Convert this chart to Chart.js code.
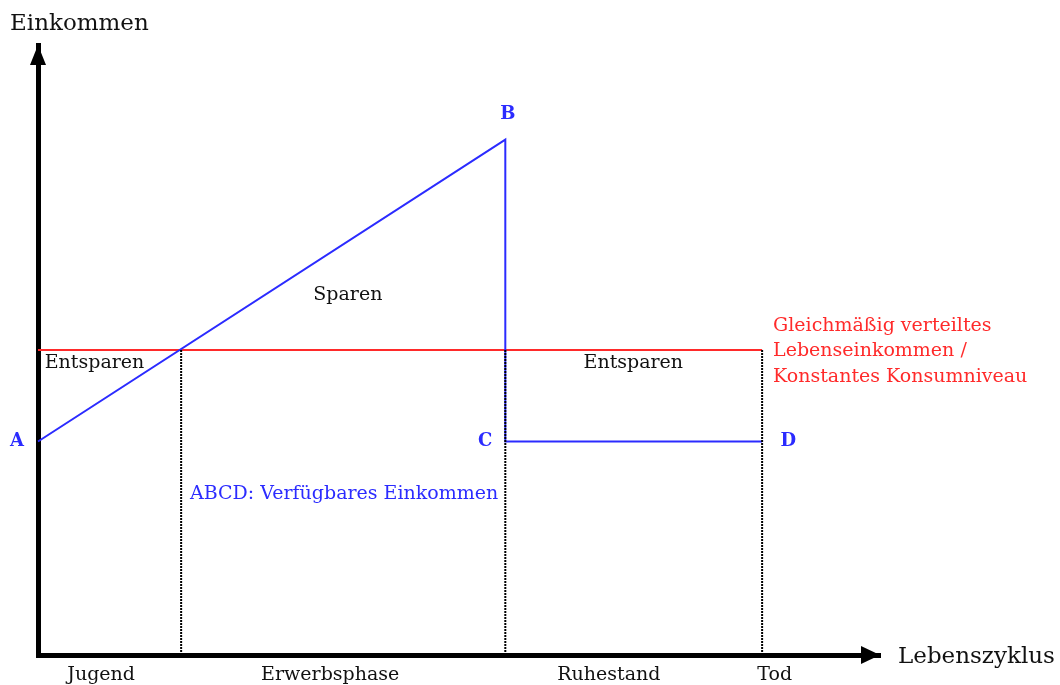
<!DOCTYPE html>
<html lang="de">
<head>
<meta charset="utf-8">
<title>Lebenszyklus-Hypothese</title>
<script src="https://cdn.jsdelivr.net/npm/chart.js@4.4.1/dist/chart.umd.min.js"></script>
<style>
    html, body { margin: 0; padding: 0; background: #ffffff; }
    .chart-wrap { position: relative; width: 1060px; height: 685px; }
</style>
</head>
<body>
<div class="chart-wrap"><canvas id="lifeCycleChart"></canvas></div>
<script>
// phase labels on the x axis and where they sit
const phaseLabels = ['Jugend', 'Erwerbsphase', 'Ruhestand', 'Tod'];
const phaseTicks = [7.5, 34.7, 67.8, 87.5];

// income path A -> B -> C -> D
const incomeX = [0, 55.5, 55.5, 86];
const incomeY = [35, 84.5, 35, 35];

// constant consumption level and phase boundaries
const consumptionLevel = 50;
const lifeStart = 0;
const lifeEnd = 86;
const phaseBounds = [17, 55.5, 86];

const FONT = '"DejaVu Serif", "Liberation Serif", serif';
const BLUE = '#2b2bff';
const RED = '#ff2a2a';

// annotations, placed in data coordinates
const notes = [
    { text: 'Sparen', x: 36.8, y: 59, color: '#111', align: 'center' },
    { text: 'Entsparen', x: 0.8, y: 47.9, color: '#111', align: 'left' },
    { text: 'Entsparen', x: 70.7, y: 47.9, color: '#111', align: 'center' },
    { text: 'Gleichmäßig verteiltes', x: 87.3, y: 53.9, color: RED, align: 'left' },
    { text: 'Lebenseinkommen /', x: 87.3, y: 49.9, color: RED, align: 'left' },
    { text: 'Konstantes Konsumniveau', x: 87.3, y: 45.6, color: RED, align: 'left' },
    { text: 'ABCD: Verfügbares Einkommen', x: 18.05, y: 26.4, color: BLUE, align: 'left' },
    { text: 'A', x: -2.5, y: 35.1, color: BLUE, align: 'center', bold: true },
    { text: 'B', x: 55.8, y: 88.7, color: BLUE, align: 'center', bold: true },
    { text: 'C', x: 53.1, y: 35.1, color: BLUE, align: 'center', bold: true },
    { text: 'D', x: 89.1, y: 35.1, color: BLUE, align: 'center', bold: true },
];

const boundaryPoints = [];
phaseBounds.forEach((bx) => {
    boundaryPoints.push({ x: bx, y: consumptionLevel }, { x: bx, y: 0 }, { x: bx, y: null });
});

const arrowsAndText = {
    id: 'arrowsAndText',
    afterDraw(chart) {
        const { ctx, chartArea, scales } = chart;
        const left = chartArea.left;
        const bottom = chartArea.bottom;
        ctx.save();
        ctx.fillStyle = '#000';
        // y arrow
        ctx.beginPath();
        ctx.moveTo(left, chartArea.top);
        ctx.lineTo(left - 8, chartArea.top + 20);
        ctx.lineTo(left + 8, chartArea.top + 20);
        ctx.closePath();
        ctx.fill();
        // x arrow
        ctx.beginPath();
        ctx.moveTo(chartArea.right, bottom);
        ctx.lineTo(chartArea.right - 19, bottom - 9);
        ctx.lineTo(chartArea.right - 19, bottom + 9);
        ctx.closePath();
        ctx.fill();

        ctx.textBaseline = 'middle';
        ctx.font = '23px ' + FONT;
        ctx.textAlign = 'left';
        ctx.fillStyle = '#111';
        ctx.fillText('Einkommen', left - 28, chartArea.top - 21);
        ctx.fillText('Lebenszyklus', chartArea.right + 18, bottom + 2);

        notes.forEach((n) => {
            ctx.font = (n.bold ? 'bold 18px ' : '19px ') + FONT;
            ctx.fillStyle = n.color;
            ctx.textAlign = n.align;
            ctx.fillText(n.text, scales.x.getPixelForValue(n.x), scales.y.getPixelForValue(n.y));
        });
        ctx.restore();
    },
};

new Chart(document.getElementById('lifeCycleChart'), {
    type: 'line',
    data: {
        datasets: [
            {
                label: 'Phasengrenzen',
                data: boundaryPoints,
                borderColor: '#000',
                borderWidth: 2,
                borderDash: [2, 1],
                pointRadius: 0,
                spanGaps: false,
            },
            {
                label: 'Verfügbares Einkommen',
                data: incomeX.map((x, i) => ({ x, y: incomeY[i] })),
                borderColor: BLUE,
                borderWidth: 2,
                pointRadius: 0,
                tension: 0,
            },
            {
                label: 'Konsumniveau',
                data: [{ x: lifeStart, y: consumptionLevel }, { x: lifeEnd, y: consumptionLevel }],
                borderColor: RED,
                borderWidth: 2,
                pointRadius: 0,
            },
        ],
    },
    options: {
        responsive: true,
        maintainAspectRatio: false,
        animation: false,
        clip: false,
        layout: { padding: { left: 38, right: 180, top: 45, bottom: 0 } },
        plugins: { legend: { display: false }, tooltip: { enabled: false } },
        scales: {
            x: {
                type: 'linear',
                min: 0,
                max: 100,
                afterBuildTicks: (axis) => {
                    axis.ticks = phaseTicks.map((v) => ({ value: v }));
                },
                afterFit: (axis) => {
                    axis.height = 30;
                },
                ticks: {
                    color: '#111',
                    font: { family: FONT, size: 19 },
                    padding: 9,
                    maxRotation: 0,
                    autoSkip: false,
                    callback: (value, index) => phaseLabels[index],
                },
                grid: { display: false, drawTicks: false },
                border: { display: true, color: '#000', width: 5 },
            },
            y: {
                min: 0,
                max: 100,
                ticks: { display: false },
                grid: { display: false, drawTicks: false },
                border: { display: true, color: '#000', width: 5 },
            },
        },
    },
    plugins: [arrowsAndText],
});
</script>
</body>
</html>
